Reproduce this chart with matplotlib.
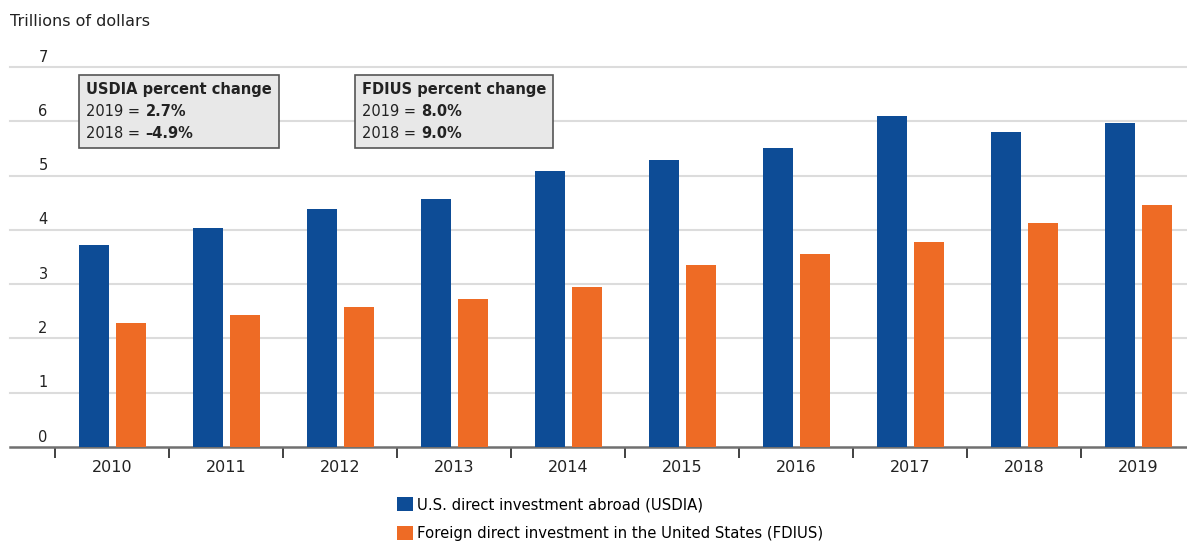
import matplotlib
matplotlib.use("Agg")
import matplotlib.pyplot as plt
from matplotlib.offsetbox import TextArea, HPacker, VPacker, AnnotationBbox
from matplotlib.patches import Patch
import numpy as np

# ---- data ----
years = ["2010", "2011", "2012", "2013", "2014", "2015", "2016", "2017", "2018", "2019"]
usdia = [3.73, 4.04, 4.39, 4.56, 5.09, 5.28, 5.51, 6.09, 5.80, 5.96]
fdius = [2.28, 2.43, 2.57, 2.72, 2.94, 3.35, 3.56, 3.78, 4.12, 4.45]
yticks = [0, 1, 2, 3, 4, 5, 6, 7]
usdia_change = [("2019", "2.7%"), ("2018", "\u20134.9%")]
fdius_change = [("2019", "8.0%"), ("2018", "9.0%")]
series_names = ["U.S. direct investment abroad (USDIA)",
                "Foreign direct investment in the United States (FDIUS)"]

BLUE = "#0d4c96"
ORANGE = "#ee6b25"
FONT = "DejaVu Sans"
plt.rcParams["font.family"] = [FONT]
TXT = "#222222"

W, H = 1187, 542
fig = plt.figure(figsize=(W / 100, H / 100), dpi=100)
ax = fig.add_axes([10 / W, (H - 447) / H, 1 - 10 / W, (447 - 67) / H])

x = np.arange(len(years))
bw = 0.26
ax.bar(x - 0.16, usdia, width=bw, color=BLUE, zorder=3)
ax.bar(x + 0.165, fdius, width=bw, color=ORANGE, zorder=3)

ax.set_xlim(-0.895, 9.43)
ax.set_ylim(0, 7)

# gridlines
for v in yticks[1:]:
    ax.axhline(v, color="#dcdcdc", lw=1.5, zorder=1, clip_on=False)
# y labels placed above gridlines
for v in yticks:
    ax.annotate(str(v), xy=(-0.605, v), xytext=(0, 10), textcoords="offset pixels",
                ha="center", va="center", fontsize=10.5, color=TXT)

for s in ["top", "right", "left"]:
    ax.spines[s].set_visible(False)
ax.spines["bottom"].set_color("#707070")
ax.spines["bottom"].set_linewidth(1.8)
ax.set_yticks([])

ax.set_xticks(np.arange(-0.5, len(years) - 1, 1.0))
ax.set_xticklabels([])
ax.tick_params(axis="x", which="major", length=8, width=1.3, color="#333333", direction="out")
ax.set_xticks(x, minor=True)
ax.set_xticklabels(years, minor=True, fontsize=11.5, color=TXT)
ax.tick_params(axis="x", which="minor", length=0, pad=9)

fig.text(10 / W, 1 - 22 / H, "Trillions of dollars", fontsize=11.5, color=TXT,
         ha="left", va="center")

def make_box(title, rows, left, top):
    fs = 10.5
    children = [TextArea(title, textprops=dict(fontsize=fs, fontweight="bold", color=TXT))]
    for lab, val in rows:
        children.append(HPacker(children=[
            TextArea(lab + " =", textprops=dict(fontsize=fs, color=TXT)),
            TextArea(val, textprops=dict(fontsize=fs, fontweight="bold", color=TXT))],
            pad=0, sep=4))
    vp = VPacker(children=children, pad=0, sep=5, align="left")
    ab = AnnotationBbox(vp, (left + 7, H - top - 7), xycoords="figure pixels",
                        box_alignment=(0, 1), frameon=True, pad=0.5,
                        bboxprops=dict(facecolor="#e8e8e8", edgecolor="#555555", lw=1.2))
    fig.add_artist(ab)

make_box("USDIA percent change", usdia_change, 79, 75)
make_box("FDIUS percent change", fdius_change, 355, 75)

handles = [Patch(facecolor=BLUE), Patch(facecolor=ORANGE)]
fig.legend(handles, series_names, loc="upper left", bbox_to_anchor=(397 / W, 1 - 497 / H),
           frameon=False, fontsize=10.75, handlelength=1.05, handleheight=1.05,
           handletextpad=0.3, labelspacing=0.95, borderpad=0, borderaxespad=0)

fig.savefig("out.png", dpi=100)
